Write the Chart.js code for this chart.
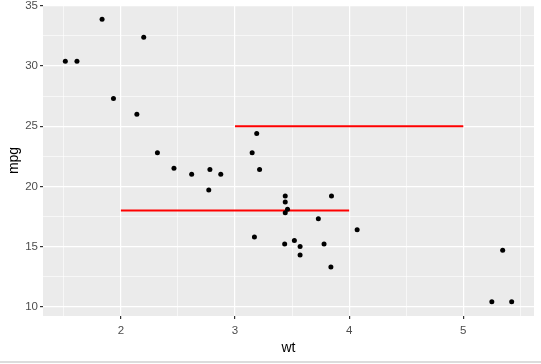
<!DOCTYPE html>
<html><head><meta charset="utf-8">
<script src="https://cdn.jsdelivr.net/npm/chart.js@4"></script>
<style>
html,body{margin:0;padding:0;background:#fff;}
#wrap{position:relative;width:541px;height:361px;}
#bar{width:541px;height:2px;background:#dcdcdc;}
</style></head>
<body>
<div id="wrap"><canvas id="c" width="541" height="361"></canvas></div>
<div id="bar"></div>
<script>
const wt = [2.620,2.875,2.320,3.215,3.440,3.460,3.570,3.190,3.150,3.440,3.440,4.070,3.730,3.780,5.250,5.424,5.345,2.200,1.615,1.835,2.465,3.520,3.435,3.840,3.845,1.935,2.140,1.513,3.170,2.770,3.570,2.780];
const mpg = [21.0,21.0,22.8,21.4,18.7,18.1,14.3,24.4,22.8,19.2,17.8,16.4,17.3,15.2,10.4,10.4,14.7,32.4,30.4,33.9,21.5,15.5,15.2,13.3,19.2,27.3,26.0,30.4,15.8,19.7,15.0,21.4];
const seg1X = [2,4], seg1Y = [18,18];
const seg2X = [3,5], seg2Y = [25,25];
const xTicks = [1.5,2,2.5,3,3.5,4,4.5,5,5.5];
const yTicks = [10,12.5,15,17.5,20,22.5,25,27.5,30,32.5,35];
const xRange = [1.3175,5.6195];
const yRange = [9.225,35.075];

const pts = wt.map((x,i)=>({x:x,y:mpg[i]}));
const s1 = seg1X.map((x,i)=>({x:x,y:seg1Y[i]}));
const s2 = seg2X.map((x,i)=>({x:x,y:seg2Y[i]}));

const bg = {id:'bg',beforeDraw(ch){const a=ch.chartArea,ctx=ch.ctx;ctx.save();ctx.fillStyle='#EBEBEB';ctx.fillRect(a.left,a.top,a.right-a.left,a.bottom-a.top);ctx.restore();}};

new Chart(document.getElementById('c'),{
  type:'scatter',
  data:{datasets:[
    {data:pts,backgroundColor:'#000',borderColor:'#000',pointRadius:2.5,pointHoverRadius:2.5,borderWidth:0},
    {type:'line',data:s1,borderColor:'#FF0000',borderWidth:2,pointRadius:0,fill:false},
    {type:'line',data:s2,borderColor:'#FF0000',borderWidth:2,pointRadius:0,fill:false}
  ]},
  options:{
    responsive:false,animation:false,
    plugins:{legend:{display:false},tooltip:{enabled:false}},
    layout:{padding:{top:5,right:7,left:6,bottom:4}},
    scales:{
      x:{type:'linear',min:xRange[0],max:xRange[1],
        afterBuildTicks:s=>{s.ticks=xTicks.map(v=>({value:v}));},
        afterFit:s=>{s.height=41;s.paddingLeft=0;s.paddingRight=0;},
        border:{display:false},
        grid:{color:'#FFFFFF',lineWidth:c=>Number.isInteger(c.tick.value)?1.2:0.6,tickLength:3,
          tickColor:c=>Number.isInteger(c.tick.value)?'#333333':'rgba(0,0,0,0)'},
        ticks:{color:'#4D4D4D',font:{family:'Liberation Sans, Arial',size:11.5},padding:5,maxRotation:0,autoSkip:false,
          callback:v=>Number.isInteger(v)?String(v):''},
        title:{display:true,text:'wt',color:'#000',font:{family:'Liberation Sans, Arial',size:14},padding:{top:0,bottom:0}}
      },
      y:{type:'linear',min:yRange[0],max:yRange[1],
        afterBuildTicks:s=>{s.ticks=yTicks.map(v=>({value:v}));},
        afterFit:s=>{s.width=37;s.paddingTop=0;s.paddingBottom=0;},
        border:{display:false},
        grid:{color:'#FFFFFF',lineWidth:c=>(c.tick.value%5===0)?1.2:0.6,tickLength:3,
          tickColor:c=>(c.tick.value%5===0)?'#333333':'rgba(0,0,0,0)'},
        ticks:{color:'#4D4D4D',font:{family:'Liberation Sans, Arial',size:11.5},padding:2,autoSkip:false,
          callback:v=>(v%5===0)?String(v):''},
        title:{display:true,text:'mpg',color:'#000',font:{family:'Liberation Sans, Arial',size:14},padding:{top:0,bottom:0}}
      }
    }
  },
  plugins:[bg]
});
</script>
</body></html>
